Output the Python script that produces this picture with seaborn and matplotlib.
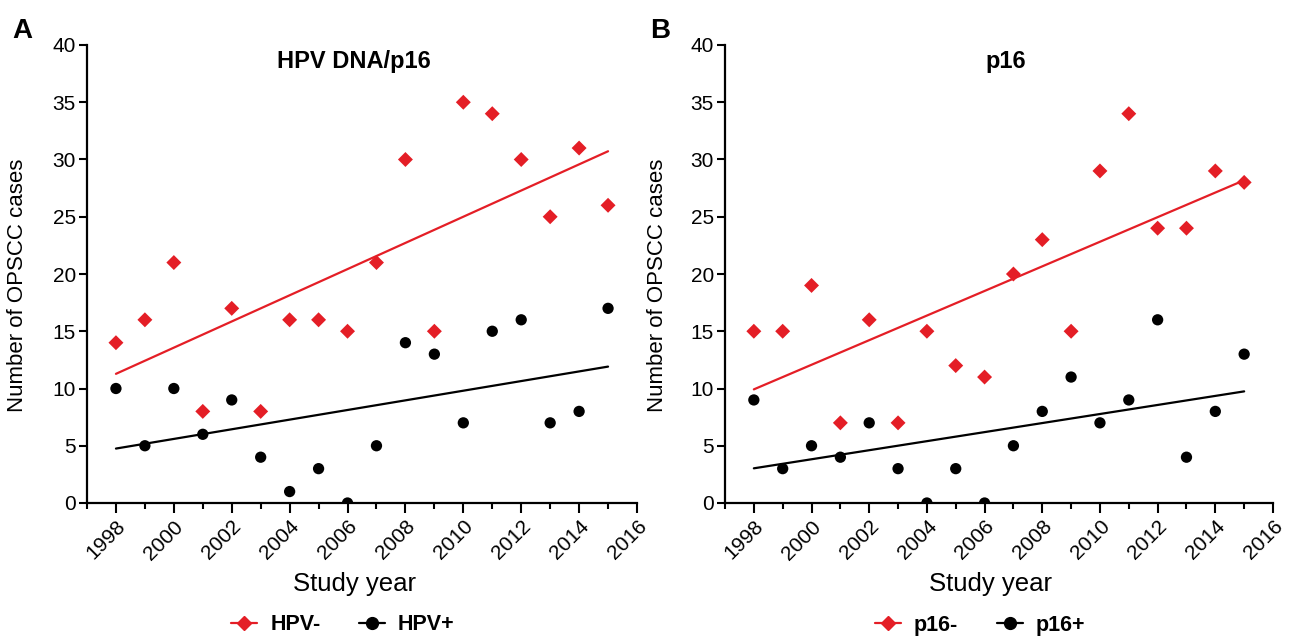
import matplotlib
matplotlib.use("Agg")
import matplotlib.pyplot as plt
from matplotlib.lines import Line2D
from matplotlib.ticker import MultipleLocator
import seaborn as sns
import pandas as pd

years = list(range(1998, 2016))

hpv_neg = [14, 16, 21, 8, 17, 8, 16, 16, 15, 21, 30, 15, 35, 34, 30, 25, 31, 26]
hpv_pos = [10, 5, 10, 6, 9, 4, 1, 3, 0, 5, 14, 13, 7, 15, 16, 7, 8, 17]

p16_neg = [15, 15, 19, 7, 16, 7, 15, 12, 11, 20, 23, 15, 29, 34, 24, 24, 29, 28]
p16_pos = [9, 3, 5, 4, 7, 3, 0, 3, 0, 5, 8, 11, 7, 9, 16, 4, 8, 13]

panel_titles = ["HPV DNA/p16", "p16"]
panel_letters = ["A", "B"]
legend_labels = [["HPV-", "HPV+"], ["p16-", "p16+"]]
ylabel = "Number of OPSCC cases"
xlabel = "Study year"
xticks = list(range(1998, 2017, 2))

RED = "#E41E26"
BLACK = "#000000"

sns.set_theme(style="ticks")
plt.rcParams["font.family"] = ["Liberation Sans", "DejaVu Sans"]
for k in ["text.color", "axes.labelcolor", "xtick.color", "ytick.color", "axes.edgecolor"]:
    plt.rcParams[k] = "black"

fig = plt.figure(figsize=(12.97, 6.36), dpi=100)
W, H = 1297, 636
axA = fig.add_axes([87 / W, 1 - 503 / H, 550 / W, 458 / H])
axB = fig.add_axes([725 / W, 1 - 503 / H, 548 / W, 458 / H])

panels = [
    (axA, hpv_neg, hpv_pos),
    (axB, p16_neg, p16_pos),
]
title_x = [0.486, 0.513]
xlabel_x = [0.486, 0.484]
ylabel_x = [-0.107, -0.104]
leg_x = [343 / W, 980 / W]
letter_x = [12 / W, 650 / W]

for i, (ax, neg, pos) in enumerate(panels):
    df = pd.DataFrame({"year": years, "neg": neg, "pos": pos})
    sns.regplot(data=df, x="year", y="neg", ax=ax, scatter=False, ci=None,
                color=RED, line_kws={"lw": 1.6, "zorder": 2})
    sns.regplot(data=df, x="year", y="pos", ax=ax, scatter=False, ci=None,
                color=BLACK, line_kws={"lw": 1.6, "zorder": 2})
    sns.scatterplot(data=df, x="year", y="neg", ax=ax, marker="D", s=58,
                    color=RED, edgecolor="none", zorder=3)
    sns.scatterplot(data=df, x="year", y="pos", ax=ax, marker="o", s=66,
                    color=BLACK, edgecolor="none", zorder=3)

    ax.set_xlim(1997, 2016)
    ax.set_ylim(0, 40)
    ax.set_xticks(xticks)
    ax.xaxis.set_minor_locator(MultipleLocator(1))
    ax.yaxis.set_major_locator(MultipleLocator(5))
    ax.set_xticklabels([str(x) for x in xticks], rotation=45, ha="right",
                       rotation_mode="anchor", fontsize=15)
    ax.tick_params(axis="y", labelsize=15, length=6, width=1.5, pad=2, color="black")
    ax.tick_params(axis="x", which="major", length=7, width=1.5, pad=3, color="black")
    ax.tick_params(axis="x", which="minor", length=4, width=1.5, color="black")
    for s in ["top", "right"]:
        ax.spines[s].set_visible(False)
    for s in ["left", "bottom"]:
        ax.spines[s].set_linewidth(1.6)
        ax.spines[s].set_color("black")
    ax.set_ylabel(ylabel, fontsize=16)
    ax.set_xlabel(xlabel, fontsize=18.5)
    ax.yaxis.set_label_coords(ylabel_x[i], 0.476)
    ax.xaxis.set_label_coords(xlabel_x[i], -0.151)
    ax.text(title_x[i], 0.965, panel_titles[i], transform=ax.transAxes,
            ha="center", va="center", fontsize=17, fontweight="bold")
    fig.text(letter_x[i], 1 - 31 / H, panel_letters[i], ha="left", va="center",
             fontsize=20, fontweight="bold")

    handles = [
        Line2D([0], [0], color=RED, lw=1.6, marker="D", markersize=7),
        Line2D([0], [0], color=BLACK, lw=1.6, marker="o", markersize=8.5),
    ]
    fig.legend(handles, legend_labels[i], loc="center",
               bbox_to_anchor=(leg_x[i], 1 - 625 / H), ncol=2, frameon=False,
               prop={"weight": "bold", "size": 15.5}, handlelength=1.2,
               handletextpad=0.6, columnspacing=1.8)

fig.savefig("out.png", dpi=100)
